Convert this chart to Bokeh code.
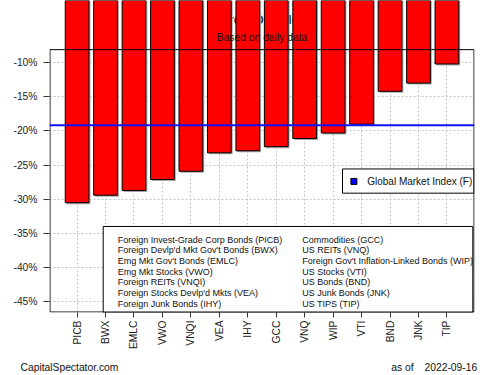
import numpy as np
from bokeh.plotting import figure
from bokeh.layouts import column
from bokeh.models import FixedTicker, CustomJSTickFormatter, Range1d, Span
from bokeh.core.properties import value
from bokeh.embed import file_html
from bokeh.resources import INLINE

# ---------------- data ----------------
tickers = ["PICB", "BWX", "EMLC", "VWO", "VNQI", "VEA", "IHY",
           "GCC", "VNQ", "WIP", "VTI", "BND", "JNK", "TIP"]
drawdowns = [-30.5, -29.4, -28.7, -27.1, -25.9, -23.2, -22.9,
             -22.3, -21.1, -20.3, -19.0, -14.2, -13.0, -10.2]
global_index = -19.15
y_ticks = [-10, -15, -20, -25, -30, -35, -40, -45]
legend_col1 = ["Foreign Invest-Grade Corp Bonds (PICB)",
               "Foreign Devlp'd Mkt Gov't Bonds (BWX)",
               "Emg Mkt Gov't Bonds (EMLC)",
               "Emg Mkt Stocks (VWO)",
               "Foreign REITs (VNQI)",
               "Foreign Stocks Devlp'd Mkts (VEA)",
               "Foreign Junk Bonds (IHY)"]
legend_col2 = ["Commodities (GCC)",
               "US REITs (VNQ)",
               "Foreign Gov't Inflation-Linked Bonds (WIP)",
               "US Stocks (VTI)",
               "US Bonds (BND)",
               "US Junk Bonds (JNK)",
               "US TIPS (TIP)"]
global_label = "Global Market Index (F)"
title_text = "Current Drawdown"
subtitle_text = "Based on daily data"
source_note = "CapitalSpectator.com"
asof_note = "as of"
date_note = "2022-09-16"

# ---------------- layout ----------------
W = 500
MAIN_H, FOOT_H = 352, 23
FL, FR, FT, FB = 49, 474, 0, 313          # frame edges in pixels
X_START, X_END = -0.97, 13.97
PX_PER_PCT = 240.0 / 35.0
Y_TOP = -10 + 62.3 / PX_PER_PCT
Y_BOT = -10 - (FB - 62.3) / PX_PER_PCT
BAR_W = 1 / 1.2
FONT = value("Liberation Sans")


def px2x(px):
    return X_START + (px - FL) / (FR - FL) * (X_END - X_START)


def px2y(py):
    return Y_TOP - (py - FT) / (FB - FT) * (Y_TOP - Y_BOT)


idx = np.arange(len(tickers))

p = figure(width=W, height=MAIN_H, x_range=Range1d(X_START, X_END),
           y_range=Range1d(Y_BOT, Y_TOP), output_backend="svg",
           toolbar_location=None, min_border_left=FL, min_border_right=W - FR,
           min_border_top=FT, min_border_bottom=MAIN_H - FB)
p.frame_align = False
p.outline_line_color = None
p.background_fill_color = "white"
p.border_fill_color = "white"

# grid
p.xgrid.ticker = FixedTicker(ticks=list(idx))
p.ygrid.ticker = FixedTicker(ticks=y_ticks)
for g in (p.xgrid, p.ygrid):
    g.grid_line_color = "#c4c4c4"
    g.grid_line_dash = "2 2"
    g.grid_line_width = 1

# axes
p.xaxis.ticker = FixedTicker(ticks=list(idx))
p.xaxis.formatter = CustomJSTickFormatter(args=dict(labels=tickers),
                                          code="return labels[Math.round(tick)] || ''")
p.xaxis.major_label_orientation = np.pi / 2
p.xaxis.major_tick_out = 5
p.xaxis.major_label_standoff = 3
p.yaxis.ticker = FixedTicker(ticks=y_ticks)
p.yaxis.formatter = CustomJSTickFormatter(code="return tick + '%'")
p.yaxis.major_tick_out = 6
p.yaxis.major_label_standoff = 6
for ax in (p.xaxis, p.yaxis):
    ax.axis_line_color = None
    ax.major_tick_in = 0
    ax.minor_tick_line_color = None
    ax.major_tick_line_color = "#333333"
    ax.major_label_text_font = "Liberation Sans"
    ax.major_label_text_font_size = "10.3px"
    ax.major_label_text_color = "#222222"

# hidden title (behind bars)
p.text(x=[px2x(261.5)], y=[px2y(20)], text=[title_text], text_font=FONT,
       text_font_style="bold", text_font_size="12px", text_align="center",
       text_baseline="middle", text_color="#333333")

# bar shadows and bars
p.vbar(x=idx + 1.5 / 28.45, width=BAR_W, top=0,
       bottom=np.array(drawdowns) - 1.5 / PX_PER_PCT,
       fill_color="#a8a8a8", line_color=None)
p.vbar(x=idx, width=BAR_W, top=0, bottom=drawdowns,
       fill_color="#ff0000", line_color="black", line_width=1)

# global market index line
p.add_layout(Span(location=global_index, dimension="width",
                  line_color="#1010ff", line_width=2))

# subtitle
p.text(x=[px2x(261.5)], y=[px2y(36.7)], text=[subtitle_text], text_font=FONT,
       text_font_size="10.3px", text_align="center", text_baseline="middle",
       text_color="#111111")

# legend: global market index
p.quad(left=[px2x(342)], right=[px2x(473.5)], top=[px2y(169)], bottom=[px2y(193.3)],
       fill_color="white", line_color="black", line_width=1)
p.scatter(x=[px2x(353.4)], y=[px2y(181.5)], marker="square", size=6,
          fill_color="#0000ff", line_color="black", line_width=1)
p.text(x=[px2x(366.7)], y=[px2y(181.5)], text=[global_label], text_font=FONT,
       text_font_size="10px", text_baseline="middle", text_color="#111111")

# legend: ticker names
p.quad(left=[px2x(102.7)], right=[px2x(472.3)], top=[px2y(226.7)], bottom=[px2y(313)],
       fill_color="white", line_color="black", line_width=1)
rows_y = [px2y(240 + i * 10.72) for i in range(len(legend_col1))]
p.text(x=[px2x(117.3)] * len(legend_col1), y=rows_y, text=legend_col1, text_font=FONT,
       text_font_size="9px", text_baseline="middle", text_color="#111111")
p.text(x=[px2x(301.7)] * len(legend_col2), y=rows_y, text=legend_col2, text_font=FONT,
       text_font_size="9px", text_baseline="middle", text_color="#111111")

# plot box
p.quad(left=[px2x(49.5)], right=[px2x(473.5)], top=[px2y(49.3)], bottom=[px2y(312.5)],
       fill_color=None, line_color="black", line_width=1)

# footer strip
f = figure(width=W, height=FOOT_H, x_range=Range1d(0, W), y_range=Range1d(FOOT_H, 0),
           output_backend="svg", toolbar_location=None, min_border=0,
           x_axis_location=None, y_axis_location=None)
f.frame_align = False
f.grid.visible = False
f.outline_line_color = None
f.background_fill_color = "white"
f.border_fill_color = "white"
foot_y = 366.7 - MAIN_H
f.text(x=[20, 390.7, 424], y=[foot_y] * 3, text=[source_note, asof_note, date_note],
       text_font=FONT, text_font_size="10.3px", text_baseline="middle",
       text_color="#111111")

open("out.html", "w").write(file_html(column(p, f, spacing=0), INLINE))
